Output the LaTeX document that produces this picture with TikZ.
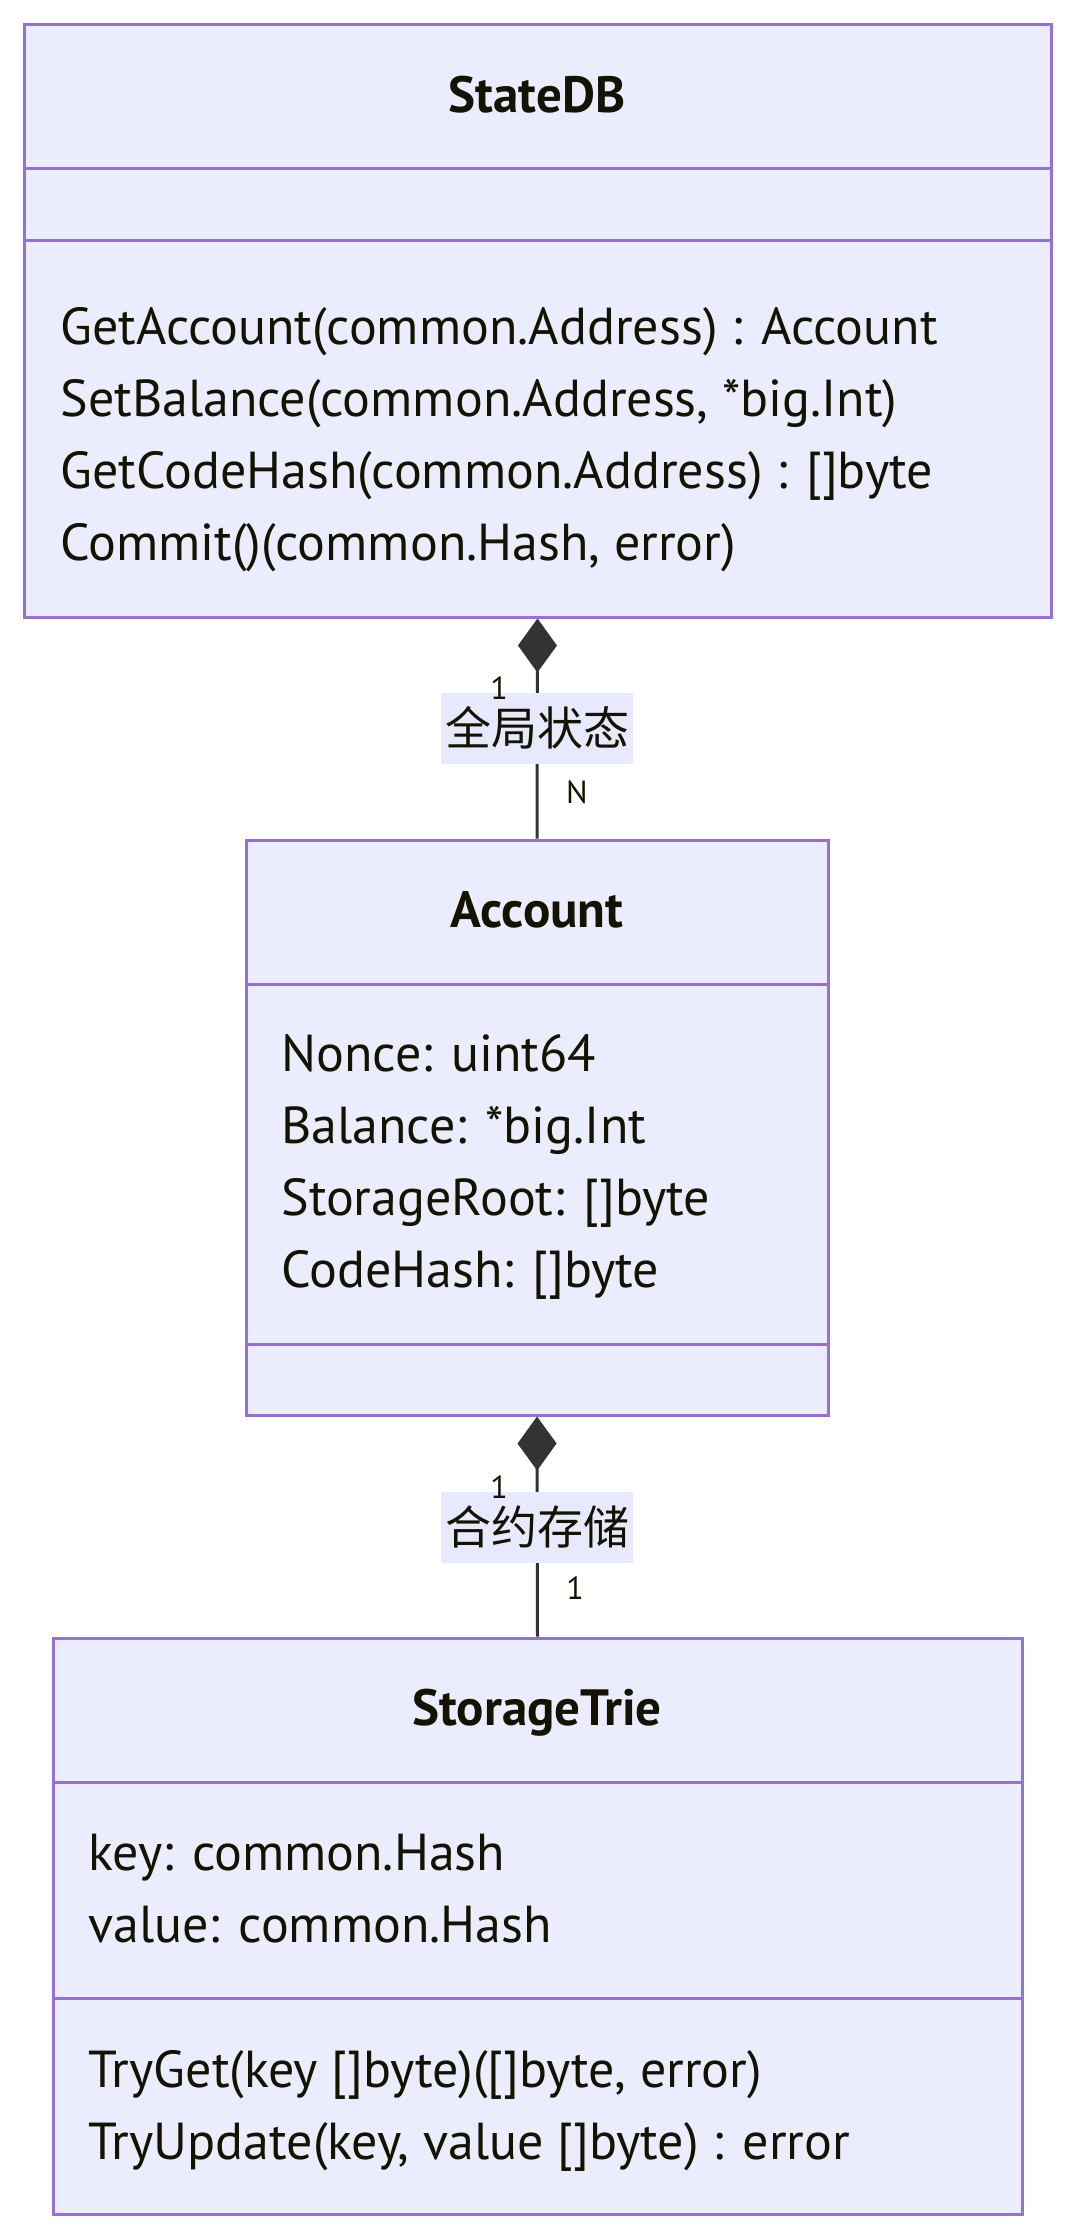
\documentclass[tikz,border=0pt]{standalone}
\usepackage{fontspec}
\setmainfont{PT Sans}
\newfontfamily\cjk{Noto Sans CJK SC}
\usetikzlibrary{arrows.meta,fit}
\definecolor{boxfill}{HTML}{ECECFF}
\definecolor{boxline}{HTML}{9370DB}
\definecolor{txt}{HTML}{131300}
\definecolor{conn}{HTML}{333333}
\definecolor{lblbg}{HTML}{E8E8FF}
\begin{document}
\begin{tikzpicture}[x=0.5pt,y=-0.5pt,
  classbox/.style={draw=boxline, fill=boxfill, line width=1.5pt, inner sep=0pt},
  divider/.style={draw=boxline, line width=1.5pt},
  ctitle/.style={font=\fontsize{25.5}{30}\selectfont\bfseries, text=txt, anchor=base, inner sep=0pt},
  member/.style={font=\fontsize{26}{30}\selectfont, text=txt, anchor=base west, inner sep=0pt},
  rel/.style={draw=conn, line width=1.5pt},
  comp/.style={rel, -{Diamond[length=27pt,width=19.5pt,line width=0pt]}},
  rellabel/.style={fill=lblbg, font=\cjk\fontsize{23}{26}\selectfont, text=txt, inner sep=0pt, minimum width=96pt, minimum height=35.5pt},
  mult/.style={font=\fontsize{16}{18}\selectfont, text=txt, inner sep=0pt}
]
\useasboundingbox (0,0) rectangle (1074,2238);

% StateDB
\node[classbox, fit={(24,24) (1051,617)}] (sdb) {};
\draw[divider] (sdb.west |- 0,168) -- (sdb.east |- 0,168);
\draw[divider] (sdb.west |- 0,240) -- (sdb.east |- 0,240);
\node[ctitle] (sdbT) at (537,112) {StateDB};
\node[member] (sdbM1) at (60,344) {GetAccount(common.Address) : Account};
\node[member] (sdbM2) at (60,416) {SetBalance(common.Address, *big.Int)};
\node[member] (sdbM3) at (60,488) {GetCodeHash(common.Address) : []byte};
\node[member] (sdbM4) at (60,560) {Commit()(common.Hash, error)};

% Account
\node[classbox, fit={(246,840) (828,1415)}] (acc) {};
\draw[divider] (acc.west |- 0,984) -- (acc.east |- 0,984);
\draw[divider] (acc.west |- 0,1344) -- (acc.east |- 0,1344);
\node[ctitle] (accT) at (537,927) {Account};
\node[member] (accA1) at (281,1071) {Nonce: uint64};
\node[member] (accA2) at (281,1143) {Balance: *big.Int};
\node[member] (accA3) at (281,1215) {StorageRoot: []byte};
\node[member] (accA4) at (281,1287) {CodeHash: []byte};

% StorageTrie
\node[classbox, fit={(53,1638) (1022,2214)}] (st) {};
\draw[divider] (st.west |- 0,1782) -- (st.east |- 0,1782);
\draw[divider] (st.west |- 0,1998) -- (st.east |- 0,1998);
\node[ctitle] (stT) at (537,1725) {StorageTrie};
\node[member] (stA1) at (88,1870) {key: common.Hash};
\node[member] (stA2) at (88,1942) {value: common.Hash};
\node[member] (stM1) at (88,2087) {TryGet(key []byte)([]byte, error)};
\node[member] (stM2) at (88,2159) {TryUpdate(key, value []byte) : error};

% relations
\draw[comp] (acc.north) -- (sdb.south);
\node[rellabel] (l1) at (537,728) {全局状态};
\node[mult] (m1a) at (499,688) {1};
\node[mult] (m1b) at (577,792) {N};

\draw[comp] (st.north) -- (acc.south);
\node[rellabel] (l2) at (537,1527) {合约存储};
\node[mult] (m2a) at (499,1487) {1};
\node[mult] (m2b) at (575,1588) {1};
\end{tikzpicture}
\end{document}
